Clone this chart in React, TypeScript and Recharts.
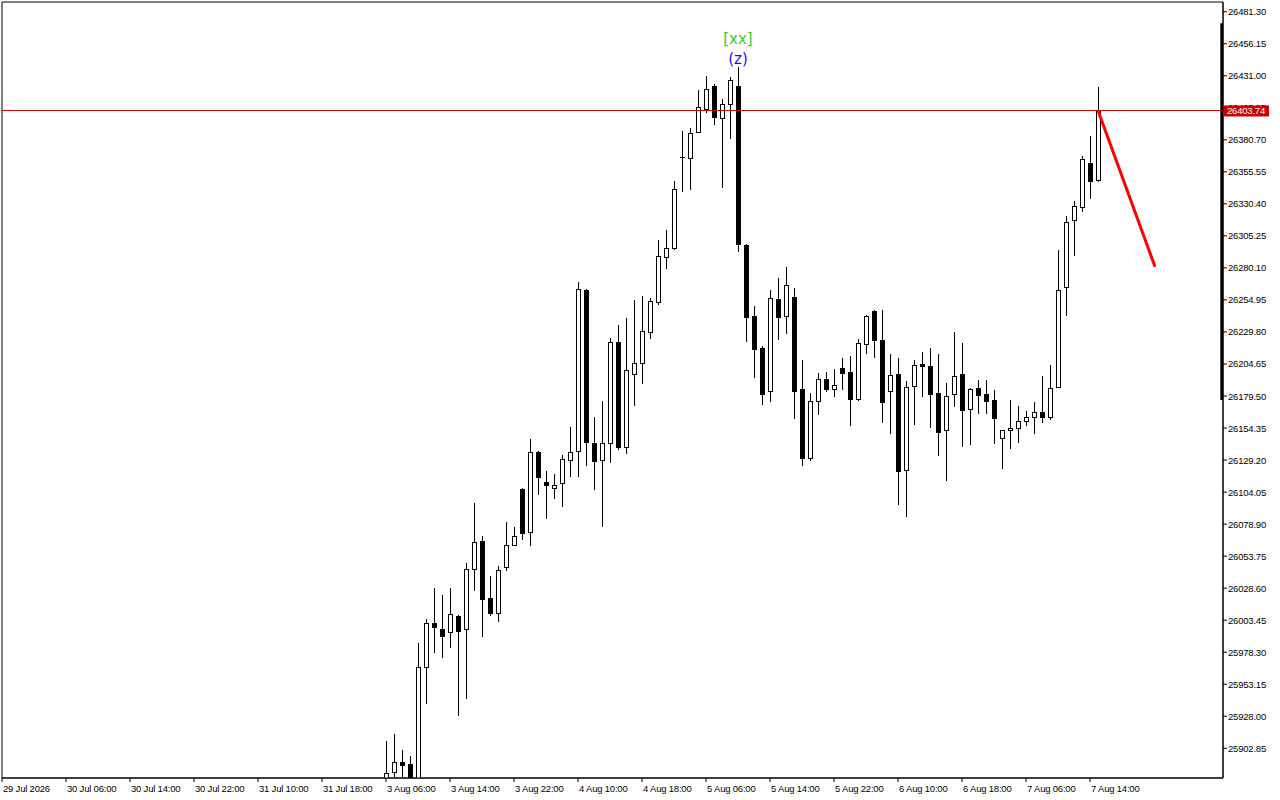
import React from 'react';
import {
  ComposedChart,
  Bar,
  Line,
  XAxis,
  YAxis,
  ReferenceLine,
  ReferenceArea,
  ReferenceDot,
} from 'recharts';

// ---- data (H1 candles, first visible candle = 3 Aug 06:00) ----
const FIRST_SLOT = 48;

const opens = [
  25874.0, 25884.2, 25892.1, 25890.5, 25876.4, 25966.7, 26001.2, 25996.5, 25994.2, 26006.8,
  25996.5, 26043.7, 26065.6, 26020.9, 26009.1, 26045.2, 26062.5, 26106.5, 26072.7, 26135.5,
  26112.0, 26107.3, 26111.2, 26129.3, 26136.3, 26262.8, 26142.6, 26129.3, 26142.6, 26221.9,
  26139.5, 26196.8, 26205.4, 26229.8, 26253.3, 26288.7, 26295.7, 26367.2, 26366.4, 26386.8,
  26404.9, 26423.0, 26397.8, 26408.8, 26423.0, 26298.1, 26242.3, 26217.2, 26183.4, 26255.7,
  26242.3, 26257.3, 26185.0, 26130.8, 26175.6, 26192.9, 26185.0, 26201.5, 26198.4, 26177.2,
  26220.4, 26246.3, 26223.5, 26183.4, 26196.8, 26121.4, 26187.4, 26204.6, 26203.1, 26181.9,
  26152.8, 26181.1, 26196.8, 26169.3, 26185.8, 26181.1, 26176.4, 26146.5, 26152.8, 26154.4,
  26159.9, 26163.0, 26167.0, 26163.0, 26186.6, 26265.1, 26317.7, 26327.9, 26362.5, 26349.1,
];

const highs = [
  25908.6, 25914.1, 25901.5, 25896.8, 25985.5, 26004.4, 26028.7, 26023.2, 26028.7, 26007.5,
  26048.4, 26095.5, 26069.6, 26038.2, 26046.0, 26080.6, 26076.6, 26107.3, 26145.7, 26136.3,
  26120.6, 26118.3, 26133.2, 26155.2, 26269.0, 26263.5, 26163.0, 26175.6, 26225.1, 26235.3,
  26240.8, 26254.9, 26258.0, 26256.5, 26302.0, 26309.9, 26348.4, 26387.6, 26390.0, 26419.8,
  26430.8, 26424.5, 26412.7, 26430.0, 26437.9, 26298.9, 26250.2, 26218.8, 26262.8, 26272.2,
  26280.8, 26264.3, 26207.8, 26181.9, 26197.6, 26198.4, 26200.7, 26209.4, 26210.9, 26224.3,
  26243.1, 26247.1, 26247.1, 26212.5, 26209.4, 26191.3, 26207.8, 26214.1, 26217.2, 26212.5,
  26189.7, 26229.8, 26221.1, 26185.8, 26192.1, 26192.1, 26184.2, 26152.8, 26176.4, 26171.7,
  26167.7, 26174.8, 26195.2, 26203.9, 26294.2, 26320.9, 26332.6, 26368.0, 26383.7, 26422.2,
];

const lows = [
  25866.2, 25874.0, 25876.4, 25870.1, 25870.1, 25938.4, 25978.5, 25974.5, 25982.4, 25929.0,
  25942.4, 26027.2, 25991.0, 26007.5, 26002.8, 26042.9, 26062.5, 26067.2, 26062.5, 26102.6,
  26083.7, 26099.4, 26093.1, 26116.7, 26116.7, 26125.3, 26106.5, 26077.4, 26127.7, 26137.9,
  26134.8, 26172.4, 26189.7, 26225.1, 26251.8, 26280.0, 26294.9, 26340.5, 26342.1, 26386.8,
  26402.5, 26393.1, 26343.6, 26382.1, 26293.4, 26222.7, 26194.4, 26173.2, 26175.6, 26224.3,
  26229.0, 26162.2, 26125.3, 26129.3, 26165.4, 26183.4, 26179.5, 26185.0, 26156.7, 26176.4,
  26213.3, 26210.1, 26159.1, 26150.5, 26094.7, 26085.3, 26157.5, 26179.5, 26155.2, 26133.2,
  26113.6, 26171.7, 26140.3, 26141.8, 26166.2, 26166.2, 26142.6, 26123.0, 26138.7, 26143.4,
  26156.7, 26150.5, 26159.1, 26161.5, 26186.6, 26243.1, 26290.2, 26324.8, 26335.0, 26348.4,
];

const closes = [
  25883.5, 25892.1, 25889.7, 25876.4, 25966.7, 26001.2, 25998.1, 25991.0, 26008.3, 25995.0,
  26043.7, 26064.9, 26020.1, 26009.1, 26042.9, 26062.5, 26069.6, 26071.9, 26135.5, 26115.9,
  26109.6, 26109.6, 26130.0, 26135.5, 26263.5, 26143.4, 26128.5, 26142.6, 26221.9, 26139.5,
  26199.9, 26205.4, 26230.6, 26254.1, 26289.5, 26295.7, 26342.1, 26367.2, 26386.1, 26406.5,
  26420.6, 26398.6, 26408.8, 26427.7, 26298.9, 26241.6, 26216.4, 26181.1, 26256.5, 26241.6,
  26266.7, 26183.4, 26130.8, 26175.6, 26192.9, 26185.0, 26188.2, 26197.6, 26177.2, 26221.1,
  26242.3, 26223.5, 26174.8, 26196.0, 26120.6, 26186.6, 26203.9, 26203.1, 26181.1, 26151.2,
  26179.5, 26195.2, 26168.5, 26185.0, 26180.3, 26175.6, 26162.2, 26152.8, 26154.4, 26159.9,
  26163.0, 26167.0, 26163.0, 26185.8, 26262.8, 26316.2, 26328.7, 26365.6, 26348.4, 26403.74,
];

const xTickSlots = [0, 8, 16, 24, 32, 40, 48, 56, 64, 72, 80, 88, 96, 104, 112, 120, 128, 136];
const xTickLabels = [
  '29 Jul 2026', '30 Jul 06:00', '30 Jul 14:00', '30 Jul 22:00', '31 Jul 10:00', '31 Jul 18:00',
  '3 Aug 06:00', '3 Aug 14:00', '3 Aug 22:00', '4 Aug 10:00', '4 Aug 18:00', '5 Aug 06:00',
  '5 Aug 14:00', '5 Aug 22:00', '6 Aug 10:00', '6 Aug 18:00', '7 Aug 06:00', '7 Aug 14:00',
];

const yTicks = [
  25902.85, 25928.0, 25953.15, 25978.3, 26003.45, 26028.6, 26053.75, 26078.9, 26104.05, 26129.2,
  26154.35, 26179.5, 26204.65, 26229.8, 26254.95, 26280.1, 26305.25, 26330.4, 26355.55, 26380.7,
  26405.85, 26431.0, 26456.15, 26481.3,
];

const currentPrice = 26403.74;
const trendSlots = [137, 144.125];
const trendValues = [26403.74, 26281.05];
const waveSlot = 92;
const wavePrice = 26437.9;
const waveLabels = ['[xx]', '(z)'];
const scaleBarRange = [26176.4, 26472.2];

const Y_DOMAIN: [number, number] = [25879.53, 26488.92];
const X_DOMAIN: [number, number] = [0, 152.625];

// the current price is appended last so its badge is painted over the regular tick labels
const yAxisTicks = [...yTicks, currentPrice];

const candles = opens.map((o, i) => ({
  slot: FIRST_SLOT + i,
  open: o,
  high: highs[i],
  low: lows[i],
  close: closes[i],
  range: [lows[i], highs[i]],
}));
const trend = trendSlots.map((s, i) => ({ slot: s, v: trendValues[i] }));

const FONT = '"Liberation Sans", Arial, sans-serif';

function CandleShape(props: any) {
  const { x, y, width, height, payload } = props;
  if (!payload || x == null || y == null) return null;
  const { open, high, low, close } = payload;
  const top = Math.min(y, y + height);
  const bot = Math.max(y, y + height);
  const span = high - low;
  const py = (p: number) => (span > 0 ? top + ((high - p) / span) * (bot - top) : top);
  const cx = Math.round(x + width / 2);
  const wx = cx + 0.5;
  const yo = py(open);
  const yc = py(close);
  const bTop = Math.round(Math.min(yo, yc)) + 0.5;
  const bBot = Math.round(Math.max(yo, yc)) + 0.5;
  const bull = close >= open;
  return (
    <g>
      <line x1={wx} x2={wx} y1={Math.round(top)} y2={Math.round(bot) + 1} stroke="#000" strokeWidth={1} />
      {bBot - bTop < 1 ? (
        <line x1={cx - 2} x2={cx + 3} y1={bTop} y2={bTop} stroke="#000" strokeWidth={1} />
      ) : (
        <rect
          x={cx - 1.5}
          y={bTop}
          width={4}
          height={bBot - bTop}
          fill={bull ? '#fff' : '#000'}
          stroke="#000"
          strokeWidth={1}
        />
      )}
    </g>
  );
}

function XTick(props: any) {
  const { x, y, payload } = props;
  const idx = xTickSlots.indexOf(payload.value);
  return (
    <text
      x={x + 1}
      y={y + 10}
      fontFamily={FONT}
      fontSize={9.5}
      letterSpacing={-0.2}
      fill="#000"
      textAnchor="start"
    >
      {idx >= 0 ? xTickLabels[idx] : ''}
    </text>
  );
}

function YTick(props: any) {
  const { x, y, payload } = props;
  const v = Number(payload.value);
  if (v === currentPrice) {
    const left = x - 4;
    return (
      <g>
        <rect x={left} y={y - 5} width={45} height={11} fill="#cc0000" />
        <text x={left + 3} y={y + 4} fill="#fff" fontFamily={FONT} fontSize={9.5} letterSpacing={-0.2}>
          {v.toFixed(2)}
        </text>
      </g>
    );
  }
  return (
    <text
      x={x}
      y={y + 3.5}
      fontFamily={FONT}
      fontSize={9.5}
      letterSpacing={-0.2}
      fill="#000"
      textAnchor="start"
    >
      {v.toFixed(2)}
    </text>
  );
}

function WaveLabel(props: any) {
  const vb = props.viewBox || {};
  const cx = (vb.x || 0) + (vb.width || 0) / 2;
  const cy = (vb.y || 0) + (vb.height || 0) / 2;
  return (
    <g fontFamily='"DejaVu Sans", sans-serif' fontSize={15} textAnchor="middle">
      <text x={cx} y={cy - 22.5} fill="#32cd32">
        {waveLabels[0]}
      </text>
      <text x={cx} y={cy - 2.5} fill="#1010ff">
        {waveLabels[1]}
      </text>
    </g>
  );
}

export default function App() {
  return (
    <div style={{ position: 'absolute', left: 0, top: 0, width: 1280, height: 800, background: '#fff' }}>
      <ComposedChart
        width={1280}
        height={800}
        data={candles}
        margin={{ top: 2, right: 0, bottom: 0, left: 2 }}
      >
        <XAxis
          dataKey="slot"
          type="number"
          domain={X_DOMAIN}
          allowDataOverflow
          ticks={xTickSlots}
          interval={0}
          height={22}
          tickSize={4}
          tickMargin={0}
          tick={<XTick />}
          axisLine={{ stroke: '#000' }}
          tickLine={{ stroke: '#000' }}
        />
        <YAxis
          orientation="right"
          type="number"
          domain={Y_DOMAIN}
          allowDataOverflow
          ticks={yAxisTicks}
          interval={0}
          width={57}
          tickSize={4}
          tickMargin={1}
          tick={<YTick />}
          axisLine={{ stroke: '#000' }}
          tickLine={{ stroke: '#000' }}
        />
        <ReferenceArea
          x1={X_DOMAIN[0]}
          x2={X_DOMAIN[1]}
          y1={Y_DOMAIN[0]}
          y2={Y_DOMAIN[1]}
          fill="none"
          stroke="#000"
          strokeWidth={1}
          ifOverflow="visible"
        />
        <ReferenceArea
          x1={152.29}
          x2={X_DOMAIN[1]}
          y1={scaleBarRange[0]}
          y2={scaleBarRange[1]}
          fill="#000"
          fillOpacity={1}
          stroke="none"
          ifOverflow="visible"
        />
        <ReferenceLine y={currentPrice} stroke="#cc0000" strokeWidth={1} />
        <Bar dataKey="range" barSize={5} shape={<CandleShape />} isAnimationActive={false} />
        <Line
          data={trend}
          dataKey="v"
          type="linear"
          stroke="#ff0000"
          strokeWidth={3}
          dot={false}
          activeDot={false}
          isAnimationActive={false}
        />
        <ReferenceDot
          x={waveSlot}
          y={wavePrice}
          r={1}
          fill="none"
          stroke="none"
          label={<WaveLabel />}
        />
      </ComposedChart>
    </div>
  );
}
